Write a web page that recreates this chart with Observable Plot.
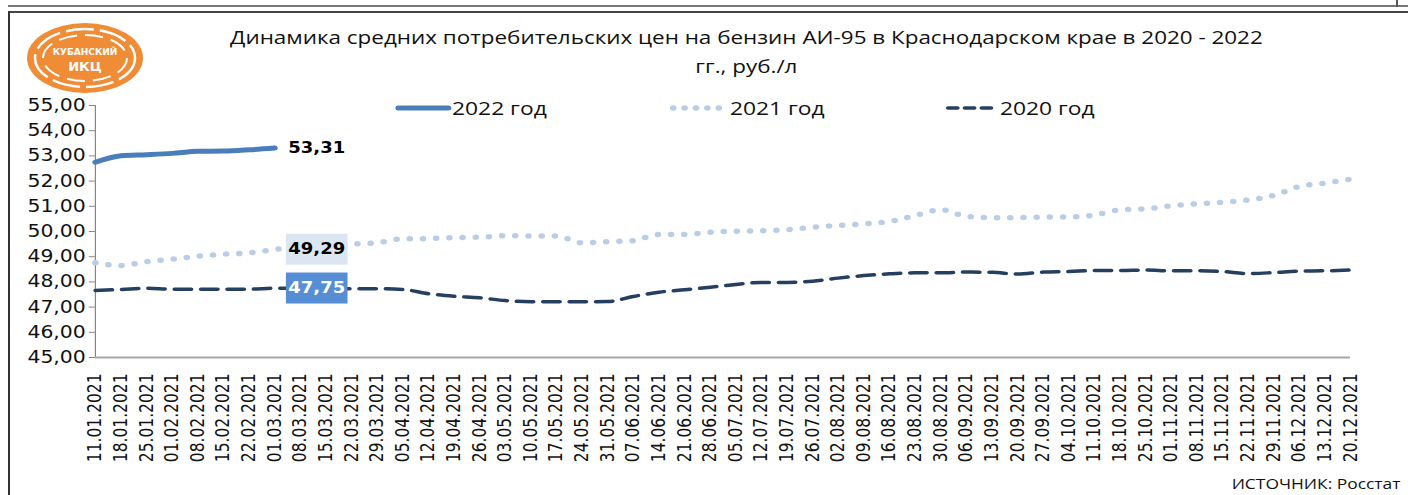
<!DOCTYPE html>
<html><head><meta charset="utf-8">
<script src="https://cdn.jsdelivr.net/npm/d3@7"></script>
<script src="https://cdn.jsdelivr.net/npm/@observablehq/plot@0.6"></script>
<style>
html,body{margin:0;padding:0;background:#fff;overflow:hidden}
#page{position:relative;width:1408px;height:495px;overflow:hidden;background:#fff}
#wrap{position:absolute;left:0;top:0;width:1173px;height:495px;transform:scaleX(1.2);transform-origin:0 0}
#title{position:absolute;left:122px;width:1000px;top:22px;text-align:center;font-family:"Open Sans",sans-serif;font-size:18.7px;line-height:29px;color:#111}
.leg{position:absolute;top:96px;height:24px;font-family:"Open Sans",sans-serif;font-size:19px;line-height:24px;color:#111;white-space:nowrap}
.sw{position:absolute;top:96px}
#source{position:absolute;right:6px;top:474px;font-family:"Open Sans",sans-serif;font-size:14.5px;color:#111;white-space:nowrap}
.frame{position:absolute;background:#555}
#chart{position:absolute;left:0;top:0}
</style></head><body>
<div id="page">
  <div class="frame" style="left:8px;top:5px;width:1400px;height:2px;background:#777"></div>
  <div class="frame" style="left:8px;top:11px;width:1400px;height:2px;background:#444"></div>
  <div class="frame" style="left:8px;top:11px;width:2px;height:484px;background:#333"></div>
  <div class="frame" style="left:1396px;top:0px;width:2px;height:7px;background:#555"></div>
  <svg style="position:absolute;left:24px;top:21px" width="122" height="74" viewBox="0 0 122 74">
    <ellipse cx="61" cy="37" rx="58" ry="35" fill="#ef8c35"/>
    <ellipse cx="61" cy="37" rx="50" ry="29" fill="none" stroke="#fff" stroke-width="2.5" stroke-dasharray="28 6"/>
    <ellipse cx="61" cy="37" rx="42" ry="23" fill="none" stroke="#fff" stroke-width="2" stroke-dasharray="18 8"/>
    <ellipse cx="61" cy="37" rx="34" ry="17" fill="#ef8c35"/>
    <text x="61" y="34" text-anchor="middle" font-family="DejaVu Sans" font-weight="bold" font-size="9" fill="#fff">КУБАНСКИЙ</text>
    <text x="61" y="50" text-anchor="middle" font-family="DejaVu Sans" font-weight="bold" font-size="13" fill="#fff">ИКЦ</text>
  </svg>
  <div id="wrap">
    <div id="chart"></div>
    <div id="title">Динамика средних потребительских цен на бензин АИ-95 в Краснодарском крае в 2020 - 2022<br>гг., руб./л</div>
    <div id="legend"></div>
    <div id="source">ИСТОЧНИК: Росстат</div>
  </div>
</div>
<script>
const dates = ["11.01.2021","18.01.2021","25.01.2021","01.02.2021","08.02.2021","15.02.2021","22.02.2021","01.03.2021","08.03.2021","15.03.2021","22.03.2021","29.03.2021","05.04.2021","12.04.2021","19.04.2021","26.04.2021","03.05.2021","10.05.2021","17.05.2021","24.05.2021","31.05.2021","07.06.2021","14.06.2021","21.06.2021","28.06.2021","05.07.2021","12.07.2021","19.07.2021","26.07.2021","02.08.2021","09.08.2021","16.08.2021","23.08.2021","30.08.2021","06.09.2021","13.09.2021","20.09.2021","27.09.2021","04.10.2021","11.10.2021","18.10.2021","25.10.2021","01.11.2021","08.11.2021","15.11.2021","22.11.2021","29.11.2021","06.12.2021","13.12.2021","20.12.2021"];
const v2022 = [52.75,53.01,53.05,53.10,53.18,53.19,53.24,53.31];
const v2021 = [48.76,48.65,48.81,48.90,49.02,49.10,49.15,49.29,49.38,49.45,49.50,49.56,49.71,49.72,49.76,49.77,49.83,49.82,49.82,49.55,49.60,49.64,49.88,49.88,49.97,50.01,50.03,50.07,50.17,50.24,50.30,50.40,50.63,50.86,50.60,50.55,50.55,50.57,50.58,50.65,50.86,50.90,51.02,51.10,51.16,51.25,51.43,51.79,51.92,52.08];
const v2020 = [47.66,47.70,47.75,47.71,47.71,47.71,47.71,47.75,47.74,47.73,47.73,47.73,47.70,47.53,47.43,47.37,47.26,47.21,47.21,47.21,47.22,47.42,47.59,47.69,47.79,47.90,47.98,47.98,48.03,48.15,48.25,48.32,48.36,48.36,48.39,48.38,48.31,48.39,48.41,48.45,48.45,48.47,48.44,48.44,48.41,48.33,48.37,48.43,48.44,48.47];
const seriesNames = ["2022 год","2021 год","2020 год"];
const yTicks = [45,46,47,48,49,50,51,52,53,54,55];
const labelIndex = 7;

const fmt = v => d3.format(".2f")(v).replace(".", ",");
const toRows = vals => vals.map((v, i) => ({i, date: dates[i], value: v}));
const d2022 = toRows(v2022), d2021 = toRows(v2021), d2020 = toRows(v2020);
const xIdx = dates.map((d, i) => i);

const styles = {
  "2022 год": {stroke: "#4a7ebb", strokeWidth: 5, strokeLinecap: "round"},
  "2021 год": {stroke: "#b9cde5", strokeWidth: 5.5, strokeDasharray: "0 11", strokeLinecap: "round"},
  "2020 год": {stroke: "#243f60", strokeWidth: 3.5, strokeDasharray: "14 8", strokeLinecap: "round"}
};
const legendDash = {"2022 год": null, "2021 год": "0 9.5", "2020 год": "8 6"};

const lab = {x: "i", y: "value", text: d => fmt(d.value), dx: 35, fontWeight: "bold", fontSize: 15, fontFamily: "DejaVu Sans"};

const chart = Plot.plot({
  width: 1173, height: 495,
  marginLeft: 79, marginRight: 48, marginTop: 105, marginBottom: 138,
  style: {fontFamily: "DejaVu Sans", background: "transparent", overflow: "visible", color: "#000"},
  x: {type: "linear", domain: [0, dates.length - 1], label: null},
  y: {domain: [45, 55], label: null},
  marks: [
    Plot.axisY(yTicks, {tickFormat: fmt, tickSize: 5, tickPadding: 3, fontSize: 17, stroke: "#868686", fill: "#111", label: null}),
    Plot.axisX(xIdx, {tickFormat: i => dates[i], tickRotate: -90, tickSize: 0, tickPadding: 16, fontSize: 15.5, fill: "#111", label: null}),
    Plot.ruleX([0], {stroke: "#868686", strokeWidth: 1}),
    Plot.ruleY([45], {stroke: "#a6a6a6", strokeWidth: 2}),
    Plot.line(d2020, {x: "i", y: "value", curve: "monotone-x", ...styles["2020 год"]}),
    Plot.line(d2021, {x: "i", y: "value", curve: "monotone-x", ...styles["2021 год"]}),
    Plot.line(d2022, {x: "i", y: "value", curve: "monotone-x", ...styles["2022 год"]}),
    Plot.text([d2022[labelIndex]], {...lab, fill: "#000"}),
    Plot.text([d2021[labelIndex]], {...lab, fill: "#000"}),
    Plot.text([d2020[labelIndex]], {...lab, fill: "#fff"})
  ]
});
document.getElementById("chart").appendChild(chart);

// label background boxes derived from rendered label text
const boxes = [[fmt(v2021[labelIndex]), "#dce6f2"], [fmt(v2020[labelIndex]), "#558ed5"]];
chart.querySelectorAll("text").forEach(t => {
  const m = boxes.find(b => b[0] === t.textContent);
  if (!m) return;
  const bb = t.getBBox();
  const r = document.createElementNS("http://www.w3.org/2000/svg", "rect");
  const cy = bb.y + bb.height / 2;
  r.setAttribute("x", bb.x - 2);
  r.setAttribute("y", cy - 15.5);
  r.setAttribute("width", bb.width + 4);
  r.setAttribute("height", 31);
  r.setAttribute("fill", m[1]);
  if (t.getAttribute("transform")) r.setAttribute("transform", t.getAttribute("transform"));
  t.parentNode.insertBefore(r, t);
});

// legend
const legPos = {"2022 год": [331.7, 376.7, 41.6], "2021 год": [560.8, 608.3, 40.9], "2020 год": [790, 833.3, 37.5]};
const legend = document.getElementById("legend");
seriesNames.forEach(name => {
  const [sx, tx, w] = legPos[name];
  const s = styles[name];
  const svg = d3.create("svg").attr("class", "sw").attr("width", w + 8).attr("height", 24)
    .style("left", (sx - 4) + "px");
  svg.append("line").attr("x1", 4).attr("x2", 4 + w).attr("y1", 12).attr("y2", 12)
    .attr("stroke", s.stroke).attr("stroke-width", s.strokeWidth)
    .attr("stroke-linecap", s.strokeLinecap).attr("stroke-dasharray", legendDash[name]);
  legend.appendChild(svg.node());
  const sp = document.createElement("div");
  sp.className = "leg"; sp.style.left = tx + "px"; sp.textContent = name;
  legend.appendChild(sp);
});
</script>
</body></html>
